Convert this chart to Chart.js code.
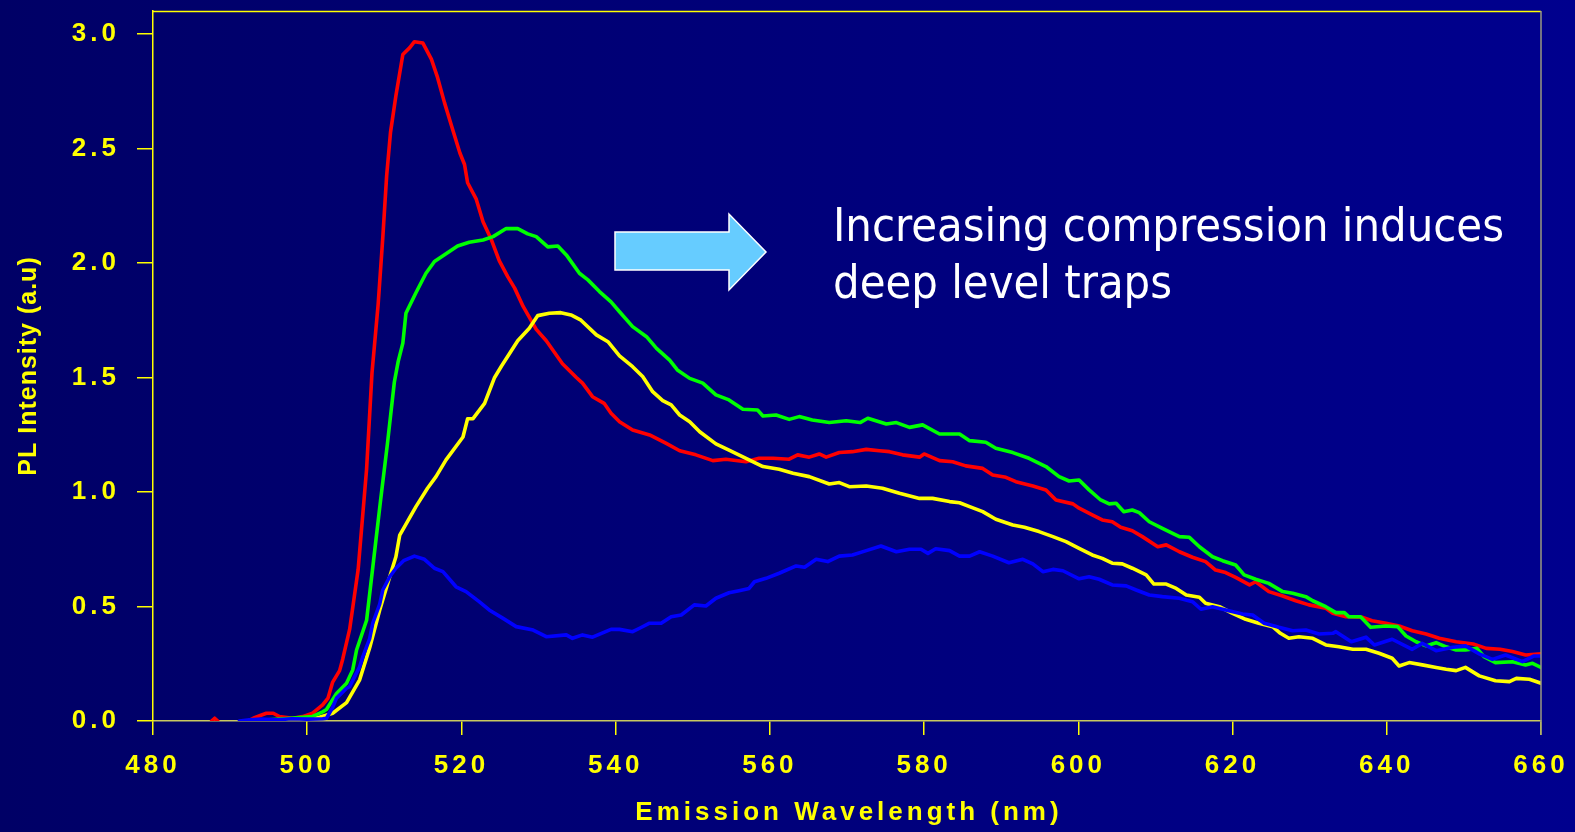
<!DOCTYPE html>
<html>
<head>
<meta charset="utf-8">
<title>PL Intensity vs Emission Wavelength</title>
<script src="https://cdn.jsdelivr.net/npm/chart.js@4.4.1/dist/chart.umd.min.js"></script>
<style>
  html, body { margin: 0; padding: 0; overflow: hidden; }
  body { width: 1575px; height: 832px; background: linear-gradient(90deg, #000066 0%, #000078 45%, #00008e 100%); }
  canvas { display: block; }
</style>
</head>
<body>
<canvas id="plChart" width="1575" height="832"></canvas>
<script>
// tick labels
const xTicks = [480, 500, 520, 540, 560, 580, 600, 620, 640, 660];
const yTicks = [0, 0.5, 1.0, 1.5, 2.0, 2.5, 3.0];

// red curve (null marks the gap after the small blip near 488 nm)
const redWl = [487.6, 488.0, 488.4, 490.0, 492.3, 493.0, 494.0, 494.7, 495.6, 496.4, 498.1, 499.4, 500.7, 502.0, 502.7, 503.3, 504.2, 504.6, 505.5, 506.6, 507.7, 508.4, 509.2, 509.8, 510.3, 510.8, 511.5, 512.4, 513.3, 513.9, 515.0, 516.1, 516.9, 517.8, 518.7, 519.8, 520.4, 520.8, 521.9, 522.8, 523.9, 524.9, 526.0, 526.9, 528.0, 529.7, 531.0, 533.1, 534.9, 535.7, 537.0, 538.5, 539.4, 540.5, 542.2, 544.4, 546.5, 548.3, 550.4, 552.6, 554.3, 556.9, 558.6, 560.4, 562.5, 563.6, 565.1, 566.4, 567.3, 569.0, 570.7, 572.5, 574.2, 575.5, 577.2, 579.4, 580.0, 582.0, 583.7, 585.4, 587.6, 588.9, 590.6, 591.9, 594.1, 595.8, 597.1, 599.3, 600.1, 601.8, 603.1, 604.4, 605.5, 607.0, 608.3, 610.3, 611.4, 613.1, 614.8, 616.5, 617.8, 619.1, 620.4, 622.2, 623.0, 624.7, 626.5, 628.2, 629.9, 632.1, 633.0, 634.7, 636.8, 638.1, 639.9, 641.6, 643.3, 645.1, 646.8, 649.0, 651.2, 652.9, 654.7, 656.3, 658.0, 660.0];
const redPl = [0.0, 0.012, 0.0, null, 0.0, 0.012, 0.025, 0.034, 0.034, 0.019, 0.012, 0.019, 0.034, 0.07, 0.10, 0.17, 0.22, 0.27, 0.40, 0.66, 1.10, 1.52, 1.82, 2.11, 2.38, 2.57, 2.73, 2.91, 2.94, 2.966, 2.96, 2.89, 2.81, 2.70, 2.60, 2.48, 2.43, 2.35, 2.28, 2.18, 2.10, 2.01, 1.94, 1.89, 1.81, 1.71, 1.66, 1.56, 1.50, 1.475, 1.416, 1.387, 1.344, 1.307, 1.271, 1.249, 1.213, 1.18, 1.162, 1.137, 1.143, 1.132, 1.147, 1.147, 1.143, 1.162, 1.152, 1.166, 1.152, 1.172, 1.176, 1.186, 1.18, 1.176, 1.162, 1.152, 1.166, 1.137, 1.132, 1.114, 1.103, 1.074, 1.064, 1.045, 1.026, 1.009, 0.965, 0.948, 0.929, 0.90, 0.878, 0.87, 0.846, 0.831, 0.805, 0.761, 0.769, 0.739, 0.715, 0.696, 0.659, 0.648, 0.627, 0.594, 0.608, 0.565, 0.546, 0.525, 0.507, 0.492, 0.47, 0.455, 0.453, 0.438, 0.427, 0.415, 0.394, 0.38, 0.361, 0.346, 0.336, 0.317, 0.313, 0.303, 0.288, 0.293];

// green curve
const greenWl = [493.0, 495.0, 497.0, 499.0, 500.7, 502.0, 502.5, 503.8, 505.1, 505.9, 506.4, 507.7, 508.6, 509.5, 510.4, 511.3, 511.8, 512.4, 512.8, 514.1, 515.4, 516.5, 518.0, 519.5, 521.0, 522.8, 524.1, 525.8, 527.3, 528.6, 529.7, 531.2, 532.5, 533.6, 535.3, 536.4, 537.9, 539.4, 540.5, 542.2, 544.0, 545.3, 547.0, 548.0, 549.6, 551.3, 553.0, 554.7, 556.5, 558.4, 559.1, 560.8, 562.5, 563.8, 565.5, 567.7, 569.9, 571.7, 572.7, 575.1, 576.4, 578.1, 579.8, 582.0, 584.6, 585.9, 588.0, 589.3, 591.5, 593.6, 595.8, 597.5, 598.8, 600.1, 601.4, 602.9, 604.0, 604.9, 605.9, 607.0, 607.9, 609.2, 610.9, 613.1, 614.4, 615.7, 617.4, 618.7, 620.4, 621.5, 623.0, 624.7, 626.5, 627.8, 629.5, 630.4, 632.1, 633.4, 634.5, 635.1, 636.6, 637.9, 639.9, 641.4, 642.5, 643.8, 645.1, 646.4, 647.7, 649.0, 650.2, 651.7, 652.6, 654.1, 656.3, 658.0, 658.9, 660.0];
const greenPl = [0.0, 0.005, 0.01, 0.015, 0.02, 0.04, 0.05, 0.12, 0.165, 0.223, 0.31, 0.44, 0.70, 0.96, 1.21, 1.48, 1.57, 1.65, 1.78, 1.87, 1.955, 2.006, 2.04, 2.074, 2.09, 2.10, 2.115, 2.15, 2.15, 2.127, 2.115, 2.07, 2.074, 2.035, 1.955, 1.926, 1.875, 1.83, 1.787, 1.722, 1.678, 1.627, 1.576, 1.533, 1.496, 1.475, 1.424, 1.402, 1.361, 1.358, 1.332, 1.336, 1.317, 1.329, 1.314, 1.303, 1.311, 1.303, 1.322, 1.297, 1.303, 1.282, 1.293, 1.253, 1.253, 1.224, 1.217, 1.191, 1.172, 1.147, 1.111, 1.067, 1.048, 1.052, 1.009, 0.965, 0.948, 0.951, 0.914, 0.921, 0.91, 0.87, 0.841, 0.805, 0.802, 0.761, 0.717, 0.70, 0.681, 0.638, 0.619, 0.601, 0.565, 0.558, 0.543, 0.525, 0.499, 0.473, 0.473, 0.455, 0.455, 0.409, 0.415, 0.412, 0.371, 0.346, 0.328, 0.342, 0.324, 0.31, 0.31, 0.317, 0.281, 0.255, 0.259, 0.245, 0.252, 0.234];

// yellow curve
const yellowWl = [494.0, 496.0, 498.0, 500.0, 501.6, 503.3, 505.1, 506.8, 508.1, 509.4, 510.7, 511.5, 512.0, 514.1, 515.6, 516.7, 518.0, 520.2, 520.8, 521.5, 523.0, 524.3, 525.2, 527.3, 528.8, 529.9, 531.4, 532.9, 534.2, 535.5, 537.5, 539.0, 540.5, 542.2, 543.5, 544.8, 546.1, 547.2, 548.3, 549.6, 550.9, 553.0, 554.7, 556.9, 559.1, 561.2, 563.0, 565.1, 567.7, 569.0, 570.3, 572.5, 574.6, 576.8, 579.4, 581.1, 583.3, 584.6, 585.9, 587.6, 589.3, 591.5, 593.0, 594.9, 596.7, 598.4, 600.1, 601.8, 603.1, 604.4, 605.7, 607.0, 608.8, 609.8, 611.4, 612.7, 614.0, 615.7, 616.5, 618.3, 620.0, 621.7, 623.4, 625.2, 626.2, 627.3, 628.6, 630.4, 632.1, 633.8, 635.6, 637.3, 639.0, 640.7, 641.6, 642.9, 644.6, 646.4, 647.7, 649.0, 650.2, 652.0, 654.1, 655.9, 656.8, 658.5, 660.0];
const yellowPl = [0.0, 0.005, 0.008, 0.01, 0.016, 0.034, 0.08, 0.18, 0.32, 0.485, 0.63, 0.717, 0.812, 0.936, 1.016, 1.067, 1.14, 1.24, 1.32, 1.32, 1.387, 1.50, 1.55, 1.66, 1.715, 1.77, 1.78, 1.783, 1.773, 1.75, 1.686, 1.656, 1.594, 1.547, 1.504, 1.438, 1.399, 1.38, 1.336, 1.307, 1.263, 1.21, 1.183, 1.147, 1.111, 1.099, 1.082, 1.067, 1.035, 1.041, 1.023, 1.026, 1.016, 0.994, 0.972, 0.972, 0.958, 0.953, 0.936, 0.914, 0.881, 0.856, 0.846, 0.827, 0.805, 0.783, 0.754, 0.725, 0.71, 0.689, 0.686, 0.667, 0.638, 0.598, 0.598, 0.579, 0.55, 0.54, 0.514, 0.499, 0.47, 0.444, 0.427, 0.412, 0.383, 0.361, 0.368, 0.361, 0.332, 0.324, 0.313, 0.313, 0.296, 0.274, 0.24, 0.255, 0.245, 0.234, 0.226, 0.22, 0.234, 0.197, 0.176, 0.172, 0.186, 0.182, 0.165];

// blue curve
const blueWl = [491.2, 492.5, 494.0, 496.0, 498.0, 500.0, 502.0, 502.5, 503.3, 503.8, 505.1, 505.5, 506.8, 507.2, 508.1, 508.5, 509.4, 509.8, 510.7, 511.5, 512.5, 513.9, 515.2, 516.5, 517.6, 519.3, 520.6, 522.3, 523.6, 525.4, 527.1, 529.3, 531.0, 533.6, 534.4, 535.7, 537.0, 539.4, 540.5, 542.2, 543.1, 544.4, 545.9, 547.2, 548.5, 550.2, 551.7, 553.0, 554.7, 556.0, 557.3, 558.0, 559.5, 561.2, 563.4, 564.5, 566.0, 567.5, 569.0, 570.7, 572.5, 574.4, 576.4, 578.1, 579.6, 580.5, 581.5, 583.3, 584.6, 585.9, 587.2, 588.9, 591.0, 592.8, 594.1, 595.4, 596.7, 598.0, 600.1, 601.4, 602.7, 604.4, 606.2, 607.5, 609.2, 610.9, 613.1, 614.8, 615.9, 617.4, 619.1, 621.3, 622.6, 624.1, 626.0, 627.8, 629.5, 631.2, 633.0, 633.4, 635.4, 637.3, 638.4, 640.7, 643.3, 644.6, 646.4, 648.6, 650.2, 652.0, 653.7, 655.4, 657.6, 659.1, 660.0];
const bluePl = [0.0, 0.005, 0.008, 0.005, 0.01, 0.008, 0.01, 0.012, 0.06, 0.10, 0.143, 0.15, 0.237, 0.28, 0.36, 0.427, 0.51, 0.572, 0.63, 0.667, 0.70, 0.72, 0.706, 0.667, 0.652, 0.586, 0.565, 0.521, 0.485, 0.448, 0.412, 0.397, 0.368, 0.376, 0.361, 0.376, 0.366, 0.40, 0.40, 0.39, 0.405, 0.427, 0.427, 0.455, 0.463, 0.507, 0.502, 0.536, 0.56, 0.569, 0.579, 0.608, 0.623, 0.645, 0.677, 0.671, 0.706, 0.696, 0.72, 0.725, 0.744, 0.764, 0.739, 0.75, 0.75, 0.732, 0.752, 0.744, 0.72, 0.72, 0.739, 0.72, 0.691, 0.706, 0.686, 0.652, 0.662, 0.656, 0.621, 0.63, 0.619, 0.594, 0.59, 0.572, 0.55, 0.543, 0.536, 0.521, 0.488, 0.499, 0.485, 0.467, 0.463, 0.427, 0.409, 0.394, 0.397, 0.38, 0.383, 0.39, 0.346, 0.366, 0.332, 0.357, 0.313, 0.339, 0.307, 0.322, 0.328, 0.293, 0.269, 0.288, 0.259, 0.284, 0.284];

const FONT = "'Liberation Sans', Arial, Helvetica, sans-serif";
const NOTE_FONT = "'DejaVu Sans Condensed', 'DejaVu Sans', sans-serif";
const YELLOW = '#ffff00';

function toPoints(xs, ys) {
  return xs.map((x, i) => ({ x: x, y: ys[i] }));
}

// draw a text line squeezed to a given width (slide text is narrow Tahoma)
function fitText(ctx, text, x, y, width) {
  const w = ctx.measureText(text).width;
  ctx.save();
  ctx.translate(x, y);
  ctx.scale(width / w, 1);
  ctx.fillText(text, 0, 0);
  ctx.restore();
}

// axis titles, borders and the annotation arrow are drawn after the chart
const decorations = {
  id: 'decorations',
  beforeDraw(chart) {
    // spaced-out tick labels like the original slide
    chart.ctx.letterSpacing = '4px';
  },
  afterDraw(chart) {
    const ctx = chart.ctx;
    const a = chart.chartArea;
    ctx.save();
    // top and right frame
    ctx.lineWidth = 1.5;
    ctx.strokeStyle = YELLOW;
    ctx.beginPath(); ctx.moveTo(a.left, a.top + 0.5); ctx.lineTo(a.right, a.top + 0.5); ctx.stroke();
    ctx.strokeStyle = '#9a9a80';
    ctx.beginPath(); ctx.moveTo(a.right, a.top); ctx.lineTo(a.right, a.bottom + 14); ctx.stroke();

    // axis titles
    ctx.fillStyle = YELLOW;
    ctx.textAlign = 'center';
    ctx.textBaseline = 'middle';
    ctx.font = 'bold 26px ' + FONT;
    ctx.letterSpacing = '4px';
    ctx.fillText('Emission Wavelength (nm)', (a.left + a.right) / 2 + 2, 813);
    ctx.save();
    ctx.translate(29, (a.top + a.bottom) / 2);
    ctx.rotate(-Math.PI / 2);
    ctx.font = 'bold 25px ' + FONT;
    ctx.letterSpacing = '1px';
    ctx.fillText('PL Intensity (a.u)', 0, 0);
    ctx.restore();

    // arrow
    ctx.letterSpacing = '0px';
    ctx.beginPath();
    ctx.moveTo(615, 232);
    ctx.lineTo(729, 232);
    ctx.lineTo(729, 214);
    ctx.lineTo(766, 252);
    ctx.lineTo(729, 290);
    ctx.lineTo(729, 270);
    ctx.lineTo(615, 270);
    ctx.closePath();
    ctx.fillStyle = '#66ccff';
    ctx.fill();
    ctx.lineWidth = 1.5;
    ctx.strokeStyle = '#ffffff';
    ctx.stroke();

    // annotation text
    ctx.fillStyle = '#ffffff';
    ctx.textAlign = 'left';
    ctx.textBaseline = 'alphabetic';
    ctx.font = '46px ' + NOTE_FONT;
    const line1 = 'Increasing compression induces';
    const line2 = 'deep level traps';
    const scaleX = 671 / ctx.measureText(line1).width;
    fitText(ctx, line1, 833, 241, 671);
    fitText(ctx, line2, 833, 298, ctx.measureText(line2).width * scaleX);
    ctx.restore();
  }
};

new Chart(document.getElementById('plChart'), {
  type: 'line',
  data: {
    datasets: [
      { label: 'blue', data: toPoints(blueWl, bluePl), borderColor: '#0000ff' },
      { label: 'green', data: toPoints(greenWl, greenPl), borderColor: '#00ff00' },
      { label: 'yellow', data: toPoints(yellowWl, yellowPl), borderColor: '#ffff00' },
      { label: 'red', data: toPoints(redWl, redPl), borderColor: '#ff0000' },
    ],
  },
  options: {
    responsive: false,
    animation: false,
    devicePixelRatio: 1,
    spanGaps: false,
    layout: { padding: { top: 11, right: 34, left: 0, bottom: 0 } },
    elements: {
      point: { radius: 0, hoverRadius: 0 },
      line: { borderWidth: 3.6, tension: 0, borderJoinStyle: 'round', borderCapStyle: 'round', fill: false },
    },
    plugins: {
      legend: { display: false },
      tooltip: { enabled: false },
    },
    events: [],
    scales: {
      x: {
        type: 'linear',
        min: 480,
        max: 660,
        afterBuildTicks: (scale) => { scale.ticks = xTicks.map(v => ({ value: v })); },
        afterFit: (scale) => { scale.height = 111; scale.paddingLeft = 0; scale.paddingRight = 0; },
        ticks: { color: YELLOW, font: { family: FONT, size: 26, weight: 'bold' }, padding: 15, maxRotation: 0, autoSkip: false },
        grid: { drawOnChartArea: false, drawTicks: true, tickLength: 14, tickColor: YELLOW, lineWidth: 1.5 },
        border: { color: '#c8c860', width: 1.5 },
      },
      y: {
        min: 0,
        max: 3.1,
        afterBuildTicks: (scale) => { scale.ticks = yTicks.map(v => ({ value: v })); },
        afterFit: (scale) => { scale.width = 153; scale.paddingTop = 0; scale.paddingBottom = 0; },
        ticks: { color: YELLOW, font: { family: FONT, size: 26, weight: 'bold' }, padding: 17, callback: (v) => v.toFixed(1) },
        grid: { drawOnChartArea: false, drawTicks: true, tickLength: 16, tickColor: YELLOW, lineWidth: 1.5 },
        border: { color: YELLOW, width: 1.5 },
      },
    },
  },
  plugins: [decorations],
});
</script>
</body>
</html>
